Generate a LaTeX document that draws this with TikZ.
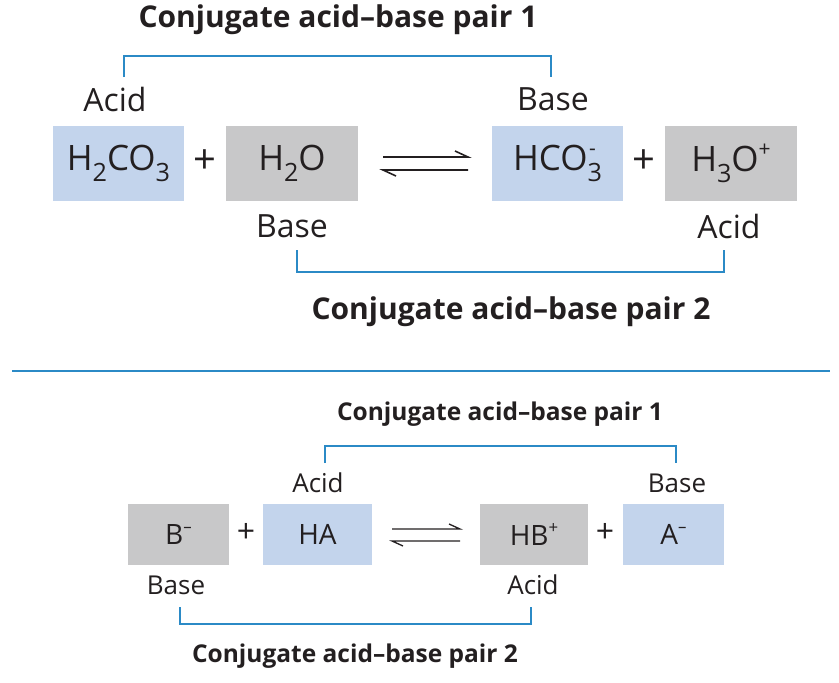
\documentclass[tikz,border=0pt]{standalone}
\usepackage{fontspec}
\setmainfont{Open Sans}
\definecolor{boxblue}{HTML}{C3D4EC}
\definecolor{boxgray}{HTML}{C8C8C9}
\definecolor{linkblue}{HTML}{2B8AC6}
\definecolor{ink}{HTML}{231F20}
\newcommand{\chsub}[1]{\raisebox{-0.32em}{\fontsize{0.72em}{1em}\selectfont #1}}
\newcommand{\chsup}[1]{\raisebox{0.42em}{\fontsize{0.6em}{1em}\selectfont #1}}
\newcommand{\chboth}[2]{\rlap{\raisebox{0.42em}{\fontsize{0.6em}{1em}\selectfont\hspace{0.08em}#2}}\raisebox{-0.32em}{\fontsize{0.72em}{1em}\selectfont #1}}
\begin{document}
\begin{tikzpicture}[x=1pt,y=-1pt,
  every node/.style={text=ink,inner sep=0pt},
  bigbox/.style={minimum height=75pt,font=\fontsize{35}{40}\selectfont},
  smallbox/.style={minimum height=61pt,font=\fontsize{28}{32}\selectfont},
  bluefill/.style={fill=boxblue},
  grayfill/.style={fill=boxgray},
  biglabel/.style={font=\fontsize{32}{36}\selectfont},
  smalllabel/.style={font=\fontsize{26}{30}\selectfont},
  bigtitle/.style={font=\fontsize{30}{34}\selectfont\bfseries},
  smalltitle/.style={font=\fontsize{24.5}{28}\selectfont\bfseries},
  link/.style={draw=linkblue,line width=2pt},
  eqarrow/.style={draw=ink,line width=1.6pt}
]
\useasboundingbox (0,0) rectangle (839,683);

% ---------- top equation ----------
\node[bigtitle] (t1) at (338,20) {Conjugate acid–base pair 1};
\node[bigbox,bluefill,minimum width=131pt] (h2co3) at (118.5,163.5) {H\chsub{2}CO\chsub{3}};
\node[bigbox,grayfill,minimum width=132pt] (h2o) at (292,163.5) {H\chsub{2}O};
\node[bigbox,bluefill,minimum width=131pt] (hco3) at (557.5,163.5) {HCO\chboth{3}{-}};
\node[bigbox,grayfill,minimum width=132pt] (h3o) at (731,163.5) {H\chsub{3}O\chsup{+}};
\node[font=\fontsize{40}{44}\selectfont] (p1) at (205,162) {+};
\node[font=\fontsize{40}{44}\selectfont] (p2) at (644,162) {+};
\node[biglabel] (la1) at (115,99) {Acid};
\node[biglabel] (lb1) at (553,99) {Base};
\node[biglabel] (lb2) at (292,226) {Base};
\node[biglabel] (la2) at (729,226) {Acid};
\node[bigtitle] (t2) at (511,312) {Conjugate acid–base pair 2};

\coordinate (e1a) at (383,157); \coordinate (e1b) at (468,157);
\coordinate (e2a) at (383,170); \coordinate (e2b) at (468,170);
\draw[eqarrow] (e1a) -- (e1b) -- ++(-13,-6);
\draw[eqarrow] (e2b) -- (e2a) -- ++(13,6);

\coordinate (k1a) at (124,77); \coordinate (k1b) at (551,77);
\draw[link] (k1a) -- (124,56) -- (551,56) -- (k1b);
\coordinate (k2a) at (297,250); \coordinate (k2b) at (724,250);
\draw[link] (k2a) -- (297,272) -- (724,272) -- (k2b);

% separator
\coordinate (s1) at (12,371); \coordinate (s2) at (830,371);
\draw[draw=linkblue,line width=1.5pt] (s1) -- (s2);

% ---------- bottom equation ----------
\node[smalltitle] (t3) at (500,414) {Conjugate acid–base pair 1};
\node[smallbox,grayfill,minimum width=101pt] (bm) at (178.5,534.5) {B\chsup{–}};
\node[smallbox,bluefill,minimum width=109pt] (ha) at (317.5,534.5) {HA};
\node[smallbox,grayfill,minimum width=108pt] (hbp) at (534,534.5) {HB\chsup{+}};
\node[smallbox,bluefill,minimum width=101pt] (am) at (673.5,534.5) {A\chsup{–}};
\node[font=\fontsize{32}{36}\selectfont] (p3) at (246,533) {+};
\node[font=\fontsize{32}{36}\selectfont] (p4) at (605,533) {+};
\node[smalllabel] (la3) at (318,483) {Acid};
\node[smalllabel] (lb3) at (677,483) {Base};
\node[smalllabel] (lb4) at (176,585) {Base};
\node[smalllabel] (la4) at (533,585) {Acid};
\node[smalltitle] (t4) at (355,656) {Conjugate acid–base pair 2};

\coordinate (f1a) at (392,529); \coordinate (f1b) at (460,529);
\coordinate (f2a) at (392,541); \coordinate (f2b) at (460,541);
\draw[eqarrow,line width=1.3pt] (f1a) -- (f1b) -- ++(-11,-5);
\draw[eqarrow,line width=1.3pt] (f2b) -- (f2a) -- ++(11,5);

\coordinate (m1a) at (325,463); \coordinate (m1b) at (676,463);
\draw[link] (m1a) -- (325,446) -- (676,446) -- (m1b);
\coordinate (m2a) at (180,607); \coordinate (m2b) at (531,607);
\draw[link] (m2a) -- (180,624) -- (531,624) -- (m2b);
\end{tikzpicture}
\end{document}
